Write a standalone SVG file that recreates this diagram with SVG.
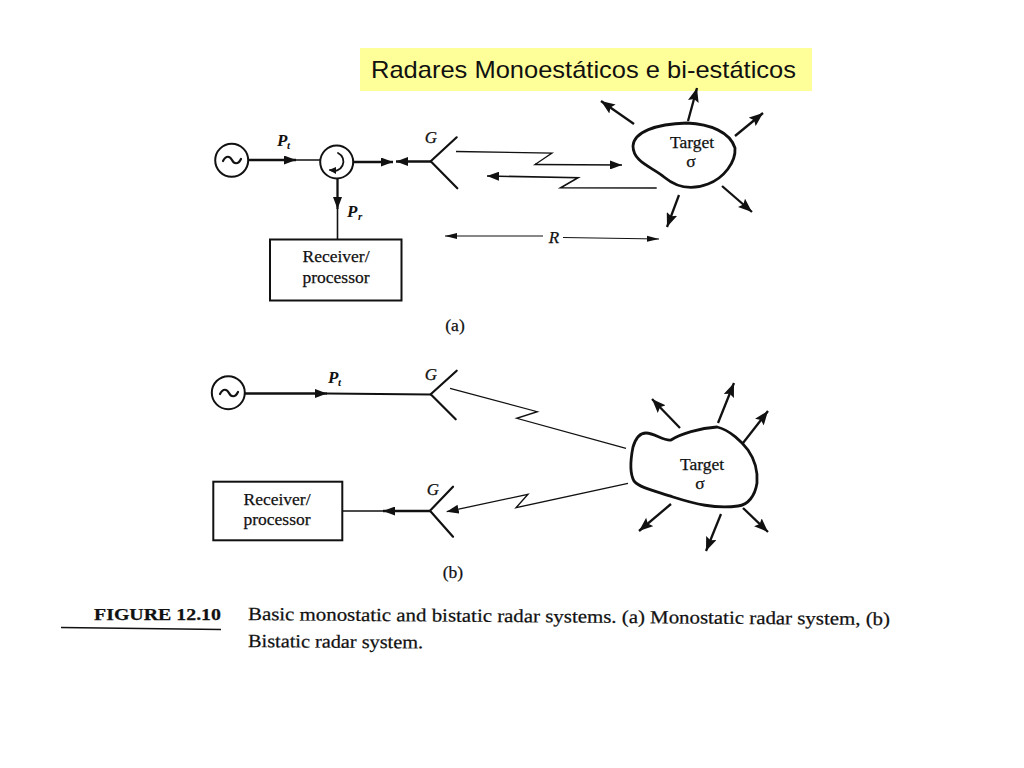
<svg xmlns="http://www.w3.org/2000/svg" width="1024" height="768" viewBox="0 0 1024 768">
<style>
text{font-family:"Liberation Serif","Times New Roman",serif;fill:#111;stroke:#111;stroke-width:.25}
.l{font-size:17.5px;text-anchor:middle}
.g{font-size:17px;text-anchor:middle;font-style:italic}
.i{font-style:italic;font-size:17px;font-weight:bold;stroke:none}
.s{font-style:italic;font-size:11px;font-weight:bold;stroke:none}
.c{font-size:18.5px}
.w{fill:none;stroke:#111;stroke-width:2.200;stroke-linecap:round;stroke-linejoin:round}
.t{fill:none;stroke:#111;stroke-width:1.300;stroke-linejoin:miter}
.b{fill:#fff;stroke:#111;stroke-width:2}
.blob{fill:#fff;stroke:#111;stroke-width:2.800}
.r{fill:none;stroke:#111;stroke-width:2.300;marker-end:url(#ah)}
.m{fill:none;stroke:#111;stroke-width:2.300;marker-end:url(#am)}
.n{fill:none;stroke:#111;stroke-width:1.200;marker-end:url(#an)}
</style>
<defs>
<marker id="ah" markerUnits="userSpaceOnUse" markerWidth="15" markerHeight="11" refX="14" refY="5.5" orient="auto"><path d="M0 0L14 5.5L0 11L2.5 5.5Z" fill="#111"/></marker>
<marker id="am" markerUnits="userSpaceOnUse" markerWidth="13" markerHeight="9" refX="12" refY="4.5" orient="auto"><path d="M0 0L12 4.5L0 9Z" fill="#111"/></marker>
<marker id="an" markerUnits="userSpaceOnUse" markerWidth="13" markerHeight="7" refX="12" refY="3.5" orient="auto"><path d="M0 .5L12 3.5L0 6.500Z" fill="#111"/></marker>
</defs>
<g id="title"><rect x="360" y="48" width="452" height="43" fill="#ffff99"/><text x="371" y="78" style="font-family:'Liberation Sans',Arial,sans-serif;font-size:24px;stroke:none" textLength="425" lengthAdjust="spacingAndGlyphs">Radares Monoestáticos e bi-estáticos</text></g>

<g id="connectors">
<path class="m" d="M248 160H296"/><path class="w" d="M296 160H320" style="stroke-width:1.600"/>
<path class="m" d="M353 162H393"/><path class="m" d="M431 161.500H396"/>
<path class="m" d="M337.500 179V209"/><path class="w" d="M337.500 209V239" style="stroke-width:1.600"/>
<path class="m" d="M456 151.500L552 153L535 164.500L622 165" style="stroke-width:1.300"/>
<path class="m" d="M656.700 188L560.700 187.700L578 177.700L487 176" style="stroke-width:1.600"/>
<path class="r" d="M634 124L601 101"/><path class="r" d="M688 121L697 88"/><path class="r" d="M735 136L763 113"/><path class="r" d="M722 186L752 212"/><path class="r" d="M679 195L667 227"/>
<path class="n" d="M543 236H445"/><path class="n" d="M563 237.500L659 239"/>
<path class="m" d="M245 393.500H327"/><path class="w" d="M327 393.500L431 394.500" style="stroke-width:1.800"/>
<path class="m" d="M431 511H383" style="stroke-width:2.400"/><path class="w" d="M383 511H342" style="stroke-width:1.600"/>
<path class="t" d="M450 388.300L537.300 411.700L516.700 418.300L626 448.300"/>
<path class="m" d="M628 483.300L516 507.700L528 494.300L446.700 511.700" style="stroke-width:1.300"/>
<path class="r" d="M680 428L652 399"/><path class="r" d="M718 423L734 383"/><path class="r" d="M743 443L768 411"/><path class="r" d="M743 508L768 532"/><path class="r" d="M721 514L706 551"/><path class="r" d="M671 504L639 531"/>
</g>

<g id="source-a"><circle class="b" cx="231.700" cy="160.300" r="16.500"/><path class="w" d="M223 161C226 155 230 156 232 160S238 165 241 159"/></g>
<g id="circulator"><circle class="b" cx="336.700" cy="162" r="16.500"/><path class="w" d="M338 153A9 9 0 1 1 330 170" style="stroke-width:1.800"/><path d="M329 170L336 167L336 174Z" fill="#111"/></g>
<g id="antenna-a"><path class="w" d="M456.700 137.300L430.700 161.300L457.300 188.300"/></g>
<g id="receiver-a"><rect class="b" x="270" y="239.500" width="131.500" height="61"/><text class="l" x="336" y="262">Receiver/</text><text class="l" x="336" y="282.500">processor</text></g>
<g id="target-a"><path class="blob" d="M633 146C634 132 655 124 687 123C710 124 730 132 735 148C736 162 724 178 708 184C690 191 676 187 664 177C652 167 633 162 633 146Z"/><text class="l" x="692" y="148">Target</text><text class="l" x="691" y="167">σ</text></g>

<g id="source-b"><circle class="b" cx="228.300" cy="392.700" r="16.500"/><path class="w" d="M220 394C223 388 227 389 229 393S235 398 238 392"/></g>
<g id="antenna-b1"><path class="w" d="M456.700 370.700L430.700 394.300L455.700 419.300"/></g>
<g id="antenna-b2"><path class="w" d="M453 486.700L430 510.700L453 536.700"/></g>
<g id="receiver-b"><rect class="b" x="213.300" y="481.700" width="129" height="58.600"/><text class="l" x="277" y="505">Receiver/</text><text class="l" x="277" y="525">processor</text></g>
<g id="target-b"><path class="blob" d="M633 447C636 437 640 433 646 433C655 433 663 441 671 440C680 434 700 428 717 427C730 430 742 442 748 450C755 460 758 470 757 483C755 496 748 505 738 506C715 509 695 504 673 497C655 491 640 488 634 481C629 472 631 457 633 447Z"/><text class="l" x="702" y="470">Target</text><text class="l" x="700" y="489">σ</text></g>

<g id="labels">
<text class="i" x="277" y="146">P</text><text class="s" x="287" y="149">t</text>
<text class="i" x="347" y="217">P</text><text class="s" x="358" y="220">r</text>
<text class="g" x="431" y="143">G</text>
<text class="g" x="554" y="243">R</text>
<text class="l" x="455" y="331">(a)</text>
<text class="i" x="328" y="383">P</text><text class="s" x="338" y="386">t</text>
<text class="g" x="431" y="380">G</text>
<text class="g" x="433" y="495">G</text>
<text class="l" x="453" y="578">(b)</text>
</g>
<g id="caption">
<text x="94" y="619.500" style="font-weight:bold;font-size:17.500px" textLength="127" lengthAdjust="spacingAndGlyphs">FIGURE 12.10</text>
<path d="M61 627.500L221 629.500" stroke="#111" stroke-width="1.500"/>
<text class="c" transform="rotate(.45 248 620)" x="248" y="620" textLength="642" lengthAdjust="spacingAndGlyphs">Basic monostatic and bistatic radar systems.  (a) Monostatic radar system,  (b)</text>
<text class="c" transform="rotate(.45 248 647)" x="248" y="647" textLength="175" lengthAdjust="spacingAndGlyphs">Bistatic radar system.</text>
</g>
</svg>
